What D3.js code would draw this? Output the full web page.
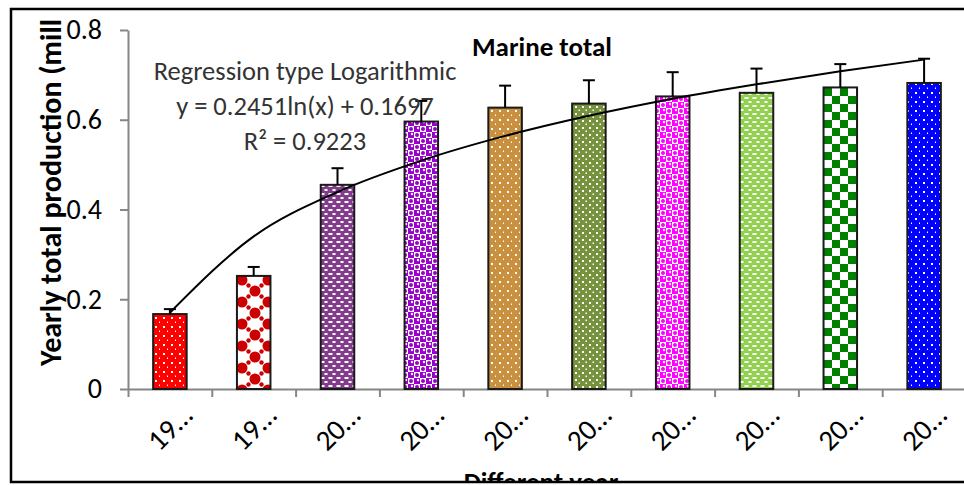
<!DOCTYPE html>
<html lang="en">
<head>
<meta charset="UTF-8">
<title>Marine total</title>
<script src="https://d3js.org/d3.v7.min.js"></script>
<style>
    body { margin: 0; background: #fff; }
    svg { display: block; font-family: Carlito, Lato, "Open Sans", sans-serif; }
</style>
</head>
<body>
<svg id="chart" width="964" height="485"></svg>
<script>
// data
const years = ["19…", "19…", "20…", "20…", "20…", "20…", "20…", "20…", "20…", "20…"];
const production = [0.167, 0.252, 0.455, 0.596, 0.627, 0.636, 0.652, 0.660, 0.672, 0.682];
const errorTop = [0.178, 0.272, 0.492, 0.642, 0.676, 0.688, 0.706, 0.714, 0.724, 0.736];
const trendValues = [0.170, 0.340, 0.439, 0.509, 0.564, 0.609, 0.647, 0.679, 0.708, 0.734];
const yTicks = [0, 0.2, 0.4, 0.6, 0.8];
const regressionText = ["Regression type Logarithmic", "y = 0.2451ln(x) + 0.1697", "R² = 0.9223"];

// fill colour and pattern kind for each bar
const barColors = ["#ff0000", "#cc0000", "#833c8b", "#9900cc", "#c8903f", "#76923c", "#ff00ff", "#92d050", "#008000", "#0000ff"];
const barPatterns = ["dots", "bigdots", "dashes", "sphere", "dots", "finedots", "sphere", "dashes", "checker", "dots"];

const svg = d3.select("#chart");
const defs = svg.append("defs");

const x = d3.scaleBand().domain(d3.range(years.length)).range([128, 966]).paddingInner(0.6).paddingOuter(0.3);
const xEdges = d3.scaleLinear().domain([0, years.length]).range([128, 966]);
const y = d3.scaleLinear().domain([0, 0.8]).range([389, 30]);

// patterns
barPatterns.forEach((kind, i) => {
    const c = barColors[i];
    let p;
    if (kind === "dots") {
        p = defs.append("pattern").attr("id", "pat" + i).attr("patternUnits", "userSpaceOnUse").attr("width", 8).attr("height", 9);
        p.append("rect").attr("width", 8).attr("height", 9).attr("fill", c);
        p.append("rect").attr("x", 3).attr("y", 2).attr("width", 2).attr("height", 2).attr("fill", "#fff");
        p.append("rect").attr("x", 7).attr("y", 6.5).attr("width", 1).attr("height", 1.5).attr("fill", "#fff");
    } else if (kind === "finedots") {
        p = defs.append("pattern").attr("id", "pat" + i).attr("patternUnits", "userSpaceOnUse").attr("width", 7).attr("height", 7);
        p.append("rect").attr("width", 7).attr("height", 7).attr("fill", c);
        p.append("rect").attr("x", 1).attr("y", 1).attr("width", 2).attr("height", 2).attr("fill", "#fff");
        p.append("rect").attr("x", 4.5).attr("y", 4.5).attr("width", 1.5).attr("height", 1.5).attr("fill", "#fff");
    } else if (kind === "dashes") {
        p = defs.append("pattern").attr("id", "pat" + i).attr("patternUnits", "userSpaceOnUse").attr("width", 8).attr("height", 8);
        p.append("rect").attr("width", 8).attr("height", 8).attr("fill", c);
        p.append("rect").attr("x", 0.5).attr("y", 1).attr("width", 4).attr("height", 2).attr("fill", "#fff");
        p.append("rect").attr("x", 4.5).attr("y", 5).attr("width", 3).attr("height", 2).attr("fill", "#fff");
    } else if (kind === "sphere") {
        p = defs.append("pattern").attr("id", "pat" + i).attr("patternUnits", "userSpaceOnUse").attr("width", 12).attr("height", 12);
        p.append("rect").attr("width", 12).attr("height", 12).attr("fill", "#fff");
        [[3, 3], [9, 9]].forEach(([cx, cy]) => {
            p.append("rect").attr("x", cx - 3).attr("y", cy - 3).attr("width", 6).attr("height", 6).attr("fill", c);
            p.append("circle").attr("cx", cx + 1).attr("cy", cy - 1).attr("r", 1.2).attr("fill", "#fff");
        });
        [[9, 3], [3, 9]].forEach(([cx, cy]) => {
            p.append("circle").attr("cx", cx).attr("cy", cy).attr("r", 2).attr("fill", c);
        });
    } else if (kind === "checker") {
        p = defs.append("pattern").attr("id", "pat" + i).attr("patternUnits", "userSpaceOnUse").attr("width", 16).attr("height", 16);
        p.append("rect").attr("width", 16).attr("height", 16).attr("fill", "#fff");
        p.append("rect").attr("x", 0).attr("y", 0).attr("width", 8).attr("height", 8).attr("fill", c);
        p.append("rect").attr("x", 8).attr("y", 8).attr("width", 8).attr("height", 8).attr("fill", c);
    } else if (kind === "bigdots") {
        p = defs.append("pattern").attr("id", "pat" + i).attr("patternUnits", "userSpaceOnUse").attr("width", 26).attr("height", 22)
            .attr("x", 242).attr("y", 280);
        p.append("rect").attr("width", 26).attr("height", 22).attr("fill", "#fff");
        [[0, 0], [26, 0], [0, 22], [26, 22], [13, 11]].forEach(([cx, cy]) => {
            p.append("circle").attr("cx", cx).attr("cy", cy).attr("r", 5.5).attr("fill", c);
        });
        [[6.5, 5.5], [19.5, 5.5], [6.5, 16.5], [19.5, 16.5]].forEach(([cx, cy]) => {
            p.append("circle").attr("cx", cx).attr("cy", cy).attr("r", 2.2).attr("fill", c);
        });
    }
});

// frame
svg.append("rect")
    .attr("x", 11).attr("y", 9).attr("width", 966).attr("height", 473)
    .attr("fill", "none").attr("stroke", "#000").attr("stroke-width", 2.5);

// y axis
const yAxis = svg.append("g")
    .attr("transform", "translate(128,0)")
    .call(d3.axisLeft(y).tickValues(yTicks).tickSize(8).tickSizeOuter(0).tickPadding(18)
        .tickFormat(d => d === 0 ? "0" : d.toFixed(1)))
    .attr("font-family", null).attr("font-size", null);
yAxis.select(".domain").attr("stroke", "#868686").attr("stroke-width", 2);
yAxis.selectAll(".tick line").attr("stroke", "#868686").attr("stroke-width", 2);
yAxis.selectAll(".tick text").attr("fill", "#000").style("font-size", "28px");

// x axis (ticks on category edges)
const xAxis = svg.append("g")
    .attr("transform", "translate(0,389)")
    .call(d3.axisBottom(xEdges).tickValues(d3.range(years.length + 1)).tickSize(8).tickSizeOuter(0).tickFormat(""));
xAxis.select(".domain").attr("stroke", "#868686").attr("stroke-width", 2);
xAxis.selectAll(".tick line").attr("stroke", "#868686").attr("stroke-width", 2);

// category labels
svg.append("g").selectAll("text")
    .data(years)
    .join("text")
    .attr("transform", (d, i) => `translate(${x(i) + x.bandwidth() / 2 + 10},403) rotate(-45)`)
    .attr("text-anchor", "end")
    .attr("dy", "0.7em")
    .style("font-size", "29px")
    .text(d => d);

// bars
svg.append("g").selectAll("rect")
    .data(production)
    .join("rect")
    .attr("x", (d, i) => x(i))
    .attr("y", d => y(d))
    .attr("width", x.bandwidth())
    .attr("height", d => y(0) - y(d))
    .attr("fill", (d, i) => `url(#pat${i})`)
    .attr("stroke", "#1a1a1a")
    .attr("stroke-width", 2);

// error bars
const err = svg.append("g").attr("stroke", "#000").attr("stroke-width", 2);
err.selectAll("line.v")
    .data(production)
    .join("line").attr("class", "v")
    .attr("x1", (d, i) => x(i) + x.bandwidth() / 2)
    .attr("x2", (d, i) => x(i) + x.bandwidth() / 2)
    .attr("y1", d => y(d))
    .attr("y2", (d, i) => y(errorTop[i]));
err.selectAll("line.cap")
    .data(errorTop)
    .join("line").attr("class", "cap")
    .attr("x1", (d, i) => x(i) + x.bandwidth() / 2 - 6)
    .attr("x2", (d, i) => x(i) + x.bandwidth() / 2 + 6)
    .attr("y1", d => y(d))
    .attr("y2", d => y(d));

// logarithmic trend line
const line = d3.line()
    .x((d, i) => x(i) + x.bandwidth() / 2)
    .y(d => y(d))
    .curve(d3.curveMonotoneX);
svg.append("path")
    .datum(trendValues)
    .attr("d", line)
    .attr("fill", "none")
    .attr("stroke", "#000")
    .attr("stroke-width", 2);

// regression label
svg.append("g").selectAll("text")
    .data(regressionText)
    .join("text")
    .attr("x", 305)
    .attr("y", (d, i) => 80 + i * 35)
    .attr("text-anchor", "middle")
    .attr("fill", "#333")
    .style("font-size", "26.5px")
    .text(d => d);

// title
svg.append("text")
    .attr("x", 542).attr("y", 56)
    .attr("text-anchor", "middle")
    .style("font-size", "27px").style("font-weight", "bold")
    .text("Marine total");

// axis titles, cut by the frame as in the original figure
defs.append("clipPath").attr("id", "ylabClip")
    .append("rect").attr("x", 12).attr("y", 18).attr("width", 80).attr("height", 460);
svg.append("g")
    .attr("clip-path", "url(#ylabClip)")
    .append("text")
    .attr("transform", "translate(61,366) rotate(-90)")
    .attr("text-anchor", "start")
    .style("font-size", "30px").style("font-weight", "bold")
    .text("Yearly total production (million tonnes)");

defs.append("clipPath").attr("id", "xlabClip")
    .append("rect").attr("x", 12).attr("y", 10).attr("width", 950).attr("height", 471);
svg.append("g")
    .attr("clip-path", "url(#xlabClip)")
    .append("text")
    .attr("x", 541).attr("y", 491)
    .attr("text-anchor", "middle")
    .style("font-size", "27px").style("font-weight", "bold")
    .text("Different year");
</script>
</body>
</html>
